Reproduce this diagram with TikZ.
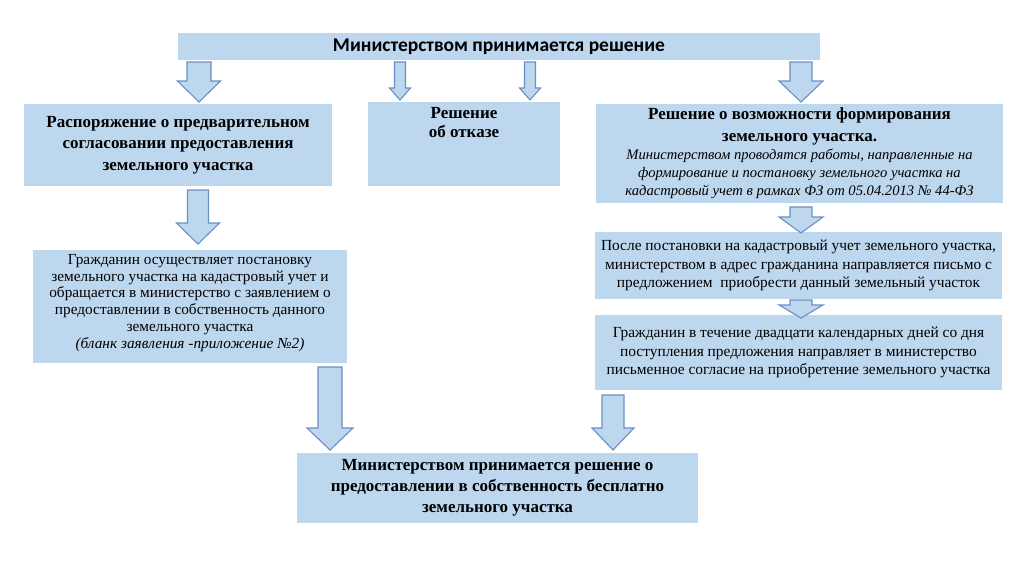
\documentclass[tikz,border=0pt]{standalone}
\usepackage{fontspec}
\setmainfont{Liberation Serif}
\newfontfamily\calib{Carlito}
\definecolor{boxfill}{HTML}{BDD7EE}
\definecolor{arrline}{HTML}{6A8FC4}
\newcommand{\barr}[6]{% cx, ytop, ytip, shaft half, head half, head start
  \draw[arrowst] ({#1-#4},#2) -- ({#1+#4},#2) -- ({#1+#4},#6) -- ({#1+#5},#6) -- (#1,#3) -- ({#1-#5},#6) -- ({#1-#4},#6) -- cycle;}
\begin{document}
\begin{tikzpicture}[x=1pt,y=-1pt,
  box/.style={fill=boxfill, draw=none, inner sep=0pt, text=black},
  arrowst/.style={fill=boxfill, draw=arrline, line width=1.1pt, line join=miter},
  txt/.style={inner sep=0pt, text=black, align=flush center}]
\useasboundingbox (0,0) rectangle (1024,574);
\fill[white] (0,0) rectangle (1024,574);
% boxes
\node[box, minimum width=642pt, minimum height=27pt, font=\calib\bfseries\fontsize{19.5}{22}\selectfont] (top) at (499,46.5)
  {Министерством принимается решение};
\node[box, minimum width=308pt, minimum height=82pt, text width=300pt, align=flush center,
  font=\bfseries\fontsize{17}{21.5}\selectfont] (l1) at (178,145)
  {Распоряжение о предварительном\\согласовании предоставления\\земельного участка\par};
\node[box, minimum width=192pt, minimum height=84pt] (m) at (464,144) {};
\node[txt, anchor=north, text width=180pt, font=\bfseries\fontsize{17}{19}\selectfont] (mt) at (464,107)
  {Решение\\об отказе\par};
\node[box, minimum width=407pt, minimum height=99pt, text width=400pt, align=flush center,
  font=\bfseries\fontsize{17}{22}\selectfont] (r1) at (799.5,153.5)
  {Решение о возможности формирования\\земельного участка.\par
   \mdseries\itshape\fontsize{14.6}{18}\selectfont Министерством проводятся работы, направленные на\\формирование и постановку земельного участка на\\кадастровый учет в рамках ФЗ от 05.04.2013 № 44-ФЗ\par};
\node[box, minimum width=314pt, minimum height=113pt] (l2) at (190,306.5) {};
\node[txt, text width=310pt, font=\fontsize{15.3}{16.8}\selectfont] (l2t) at (190,303)
  {Гражданин осуществляет постановку\\земельного участка на кадастровый учет и\\обращается в министерство с заявлением о\\предоставлении в собственность данного\\земельного участка\\\itshape (бланк заявления -приложение №2)\par};
\node[box, minimum width=407pt, minimum height=67pt, text width=405pt, align=flush center,
  font=\fontsize{15.4}{18.5}\selectfont] (r2) at (798.5,265.5)
  {После постановки на кадастровый учет земельного участка,\\министерством в адрес гражданина направляется письмо с\\предложением\ \ приобрести данный земельный участок\par};
\node[box, minimum width=407pt, minimum height=75pt, text width=405pt, align=flush center,
  font=\fontsize{15.4}{18.5}\selectfont] (r3) at (798.5,352.5)
  {Гражданин в течение двадцати календарных дней со дня\\поступления предложения направляет в министерство\\письменное согласие на приобретение земельного участка\par};
\node[box, minimum width=401pt, minimum height=70pt, text width=395pt, align=flush center,
  font=\bfseries\fontsize{17}{21}\selectfont] (b) at (497.5,488)
  {Министерством принимается решение о\\предоставлении в собственность бесплатно\\земельного участка\par};
% block arrows
\barr{199}{62}{102}{12}{21.5}{81}
\barr{400}{62}{100}{5.5}{10.5}{88}
\barr{530}{62}{100}{5.5}{10.5}{88}
\barr{801}{62}{102}{11}{22}{81}
\barr{198}{190}{244}{10.5}{21.5}{223}
\barr{330}{367}{450}{12}{23}{428}
\barr{613}{395}{450}{11}{21}{428}
\barr{801}{207}{233}{11}{22}{217}
\barr{801}{300}{318}{11}{22}{305}
\end{tikzpicture}
\end{document}
